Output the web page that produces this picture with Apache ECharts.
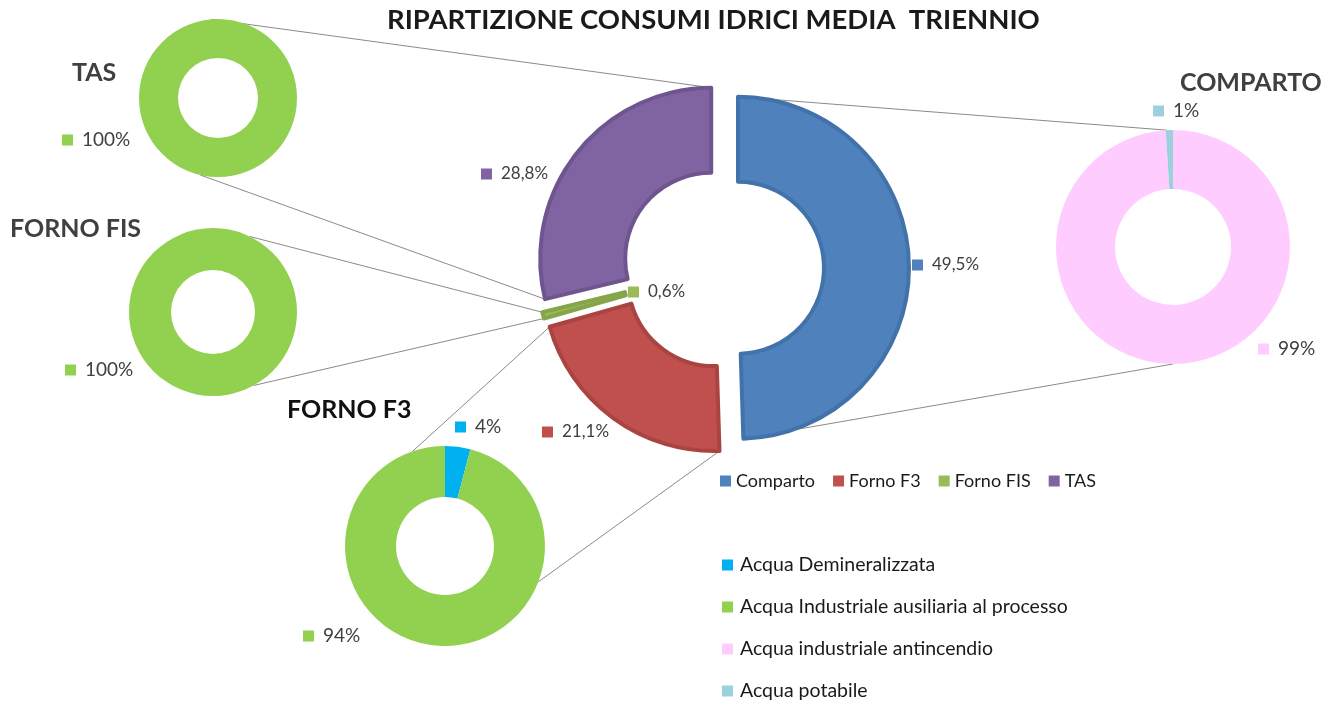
<!DOCTYPE html>
<html>
<head>
<meta charset="utf-8">
<script src="https://cdn.jsdelivr.net/npm/echarts@6/dist/echarts.min.js"></script>
<style>
	html, body { margin: 0; padding: 0; background: #fff; }
	#chart { width: 1338px; height: 706px; }
</style>
</head>
<body>
<div id="chart"></div>
<script>
// ---- dati
var mainNames = ['Comparto', 'Forno F3', 'Forno FIS', 'TAS'];
var mainValues = [49.5, 21.1, 0.6, 28.8];

var waterNames = ['Acqua Demineralizzata', 'Acqua Industriale ausiliaria al processo', 'Acqua industriale antincendio', 'Acqua potabile'];

var tasNames = ['Acqua Industriale ausiliaria al processo'];
var tasValues = [100];

var fisNames = ['Acqua Industriale ausiliaria al processo'];
var fisValues = [100];

var f3Names = ['Acqua Demineralizzata', 'Acqua Industriale ausiliaria al processo'];
var f3Values = [4, 94];

var compNames = ['Acqua industriale antincendio', 'Acqua potabile'];
var compValues = [99, 1];

// ---- colori
var mainColors = ['#4F81BD', '#C0504D', '#9BBB59', '#8064A2'];
var mainBorders = ['#4272AA', '#AA4441', '#86A44A', '#6E5590'];
var waterColors = {
	'Acqua Demineralizzata': '#00B0F0',
	'Acqua Industriale ausiliaria al processo': '#92D050',
	'Acqua industriale antincendio': '#FFCCFF',
	'Acqua potabile': '#9CD0DC'
};

// ---- geometria
var mainCenter = [723, 268];
var mainR = [86, 171];
var explode = 15;
var subs = {
	tas: { center: [218, 98], radius: [40, 79] },
	fis: { center: [213, 312], radius: [42, 84] },
	f3: { center: [445, 546], radius: [49, 100] },
	comp: { center: [1173, 247], radius: [58, 117] }
};

var FONT = 'Lato, "Open Sans", sans-serif';

function labelRich(colors, size) {
	var rich = { v: { fontSize: size, color: '#404040', fontFamily: FONT, padding: [0, 0, 0, 9] } };
	for (var i = 0; i < colors.length; i++) rich['s' + i] = { width: 11, height: 11, backgroundColor: colors[i] };
	return rich;
}

// posizioni delle etichette (quadratino a sinistra, centro verticale)
var mainLabelPos = [[912, 265], [542, 432], [628, 292], [481, 174]];
var tasLabelPos = [[62, 140]];
var fisLabelPos = [[65, 370]];
var f3LabelPos = [[455, 427], [303, 636]];
var compLabelPos = [[1258, 349], [1153, 111]];

function layoutFrom(pos) {
	return function (p) {
		var q = pos[p.dataIndex];
		return { x: q[0], y: q[1], align: 'left', verticalAlign: 'middle' };
	};
}

function ringPoint(c, r, deg) {
	var a = deg * Math.PI / 180;
	return [c[0] + r * Math.sin(a), c[1] - r * Math.cos(a)];
}
var total = mainValues.reduce(function (a, b) { return a + b; }, 0);
var cum = [0];
for (var i = 0; i < mainValues.length; i++) cum.push(cum[i] + mainValues[i]);
function midAngle(idx) {
	return (cum[idx] + mainValues[idx] / 2) / total * 360;
}

// anello principale: una serie per spicchio, spostata verso l'esterno (esploso)
function mainSeries(k) {
	return {
		name: 'Ripartizione',
		type: 'pie',
		center: ringPoint(mainCenter, explode, midAngle(k)),
		radius: mainR,
		startAngle: 90,
		clockwise: true,
		silent: true,
		emphasis: { scale: false },
		label: {
			show: true,
			position: 'outside',
			formatter: function (p) {
				return '{s' + p.dataIndex + '|}{v|' + p.value.toFixed(1).replace('.', ',') + '%}';
			},
			rich: labelRich(mainColors, 17)
		},
		labelLine: { show: false },
		labelLayout: layoutFrom(mainLabelPos),
		data: mainNames.map(function (n, i) {
			if (i !== k) {
				return { name: n, value: mainValues[i], itemStyle: { color: 'transparent', borderWidth: 0 }, label: { show: false } };
			}
			return {
				name: n, value: mainValues[i],
				itemStyle: { color: mainColors[i], borderColor: mainBorders[i], borderWidth: 4 }
			};
		})
	};
}

function subSeries(key, names, values, labelPos) {
	var cols = names.map(function (n) { return waterColors[n]; });
	return {
		type: 'pie',
		center: subs[key].center,
		radius: subs[key].radius,
		startAngle: 90,
		clockwise: true,
		silent: true,
		label: {
			show: true,
			position: 'outside',
			formatter: function (p) { return '{s' + p.dataIndex + '|}{v|' + p.value + '%}'; },
			rich: labelRich(cols, 19)
		},
		labelLine: { show: false },
		labelLayout: layoutFrom(labelPos),
		emphasis: { scale: false },
		data: names.map(function (n, i) {
			return { name: n, value: values[i], itemStyle: { color: cols[i] } };
		})
	};
}

// ---- linee di collegamento
function mainEdge(idx, atEnd) {
	var c = ringPoint(mainCenter, explode, midAngle(idx));
	var ang = (atEnd ? cum[idx + 1] : cum[idx]) / total * 360;
	return ringPoint(c, mainR[1], ang);
}
function subEdge(key, deg) {
	return ringPoint(subs[key].center, subs[key].radius[1], deg);
}
var links = [
	[subEdge('tas', -5), mainEdge(3, true)],
	[subEdge('tas', 193), mainEdge(3, false)],
	[subEdge('fis', 26), mainEdge(2, true)],
	[subEdge('fis', 151), mainEdge(2, false)],
	[subEdge('f3', 341), mainEdge(1, true)],
	[subEdge('f3', 111), mainEdge(1, false)],
	[subEdge('comp', 357), mainEdge(0, false)],
	[subEdge('comp', 180), mainEdge(0, true)]
];
var graphics = links.map(function (l) {
	return {
		type: 'line',
		z: 0,
		shape: { x1: l[0][0], y1: l[0][1], x2: l[1][0], y2: l[1][1] },
		style: { stroke: '#8a8a8a', lineWidth: 1 }
	};
});

var subTitleStyle = { fontFamily: FONT, fontSize: 25, fontWeight: 'bold', color: '#404040' };

var chart = echarts.init(document.getElementById('chart'));
var option = {
	animation: false,
	backgroundColor: '#fff',
	title: [
		{ text: 'RIPARTIZIONE CONSUMI IDRICI MEDIA  TRIENNIO', left: 382, top: 1,
		  textStyle: { fontFamily: FONT, fontSize: 27.5, fontWeight: 'bold', color: '#1a1a1a' } },
		{ text: 'TAS', left: 67, top: 55, textStyle: subTitleStyle },
		{ text: 'FORNO FIS', left: 5, top: 211, textStyle: subTitleStyle },
		{ text: 'FORNO F3', left: 282, top: 392, textStyle: { fontFamily: FONT, fontSize: 25, fontWeight: 'bold', color: '#111' } },
		{ text: 'COMPARTO', left: 1175, top: 65, textStyle: subTitleStyle }
	],
	legend: [
		{
			data: mainNames.map(function (n, i) { return { name: n, itemStyle: { color: mainColors[i], borderWidth: 0 } }; }),
			orient: 'horizontal',
			left: 715, top: 467,
			icon: 'rect', itemWidth: 11, itemHeight: 11, itemGap: 18,
			selectedMode: false,
			textStyle: { fontFamily: FONT, fontSize: 18, color: '#1a1a1a' }
		},
		{
			data: waterNames.map(function (n) { return { name: n, itemStyle: { color: waterColors[n], borderWidth: 0 } }; }),
			orient: 'vertical',
			left: 722, top: 555,
			padding: 0,
			icon: 'rect', itemWidth: 11, itemHeight: 11, itemGap: 22,
			selectedMode: false,
			textStyle: { fontFamily: FONT, fontSize: 19.5, color: '#1a1a1a', padding: [0, 0, 0, 2] }
		}
	],
	graphic: graphics,
	series: [
		mainSeries(0), mainSeries(1), mainSeries(2), mainSeries(3),
		subSeries('tas', tasNames, tasValues, tasLabelPos),
		subSeries('fis', fisNames, fisValues, fisLabelPos),
		subSeries('f3', f3Names, f3Values, f3LabelPos),
		subSeries('comp', compNames, compValues, compLabelPos)
	]
};
chart.setOption(option);
</script>
</body>
</html>
